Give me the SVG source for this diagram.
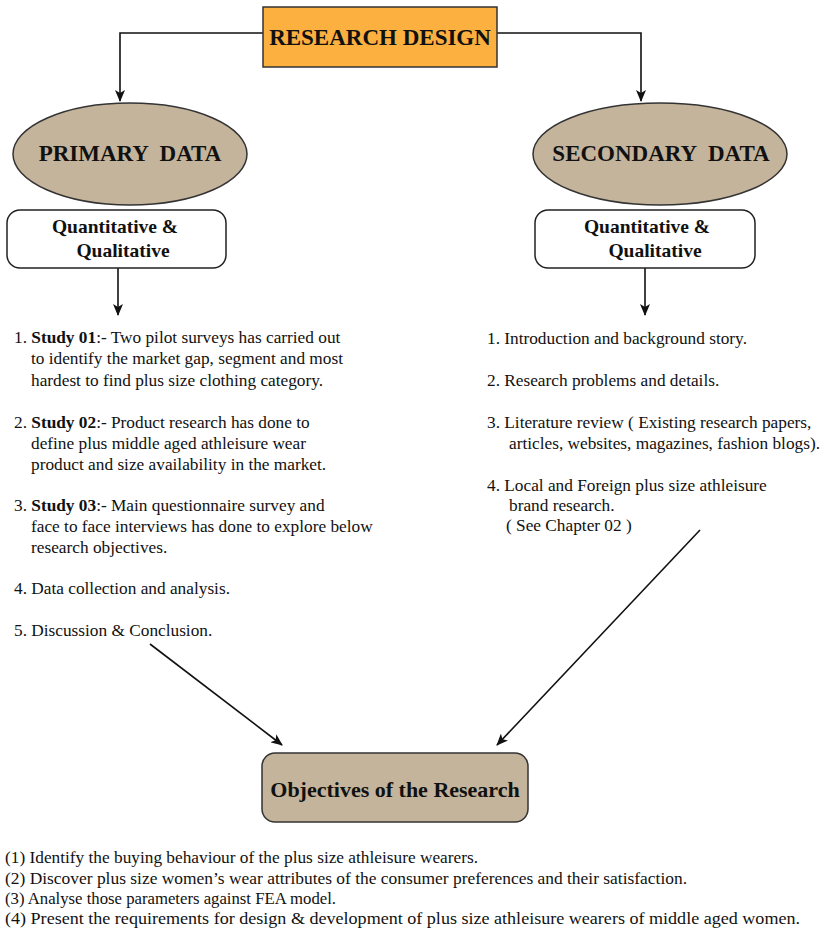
<svg xmlns="http://www.w3.org/2000/svg" width="822" height="929" viewBox="0 0 822 929">
<style>
.t{font-family:"Liberation Serif","Times New Roman",serif;fill:#111}
.b{font-weight:bold}
.body{font-size:17.3px}
.conn{fill:none;stroke:#111;stroke-width:1.6}
.tan{fill:#C4B49B;stroke:#333;stroke-width:1.5}
</style>
<defs>
<marker id="ah" viewBox="0 0 12 10" refX="11" refY="5" markerWidth="12" markerHeight="10" markerUnits="userSpaceOnUse" orient="auto">
<path d="M0,0 L12,5 L0,10 L3,5 z" fill="#111"/>
</marker>
</defs>
<rect width="822" height="929" fill="#fff"/>
<g id="connectors">
<path class="conn" d="M263,33 H120 V101" marker-end="url(#ah)"/>
<path class="conn" d="M497,33 H641 V101" marker-end="url(#ah)"/>
<path class="conn" d="M118,268 V315" marker-end="url(#ah)"/>
<path class="conn" d="M645,268 V315" marker-end="url(#ah)"/>
<path class="conn" d="M150,644 L282,745" marker-end="url(#ah)"/>
<path class="conn" d="M700,530 L497,745" marker-end="url(#ah)"/>
</g>
<g id="research-design">
<rect x="263" y="7" width="234" height="60" fill="#FBB040" stroke="#333" stroke-width="1.5"/>
<text class="t b" x="380" y="45" font-size="23" text-anchor="middle">RESEARCH DESIGN</text>
</g>
<g id="primary-data">
<ellipse class="tan" cx="130" cy="154" rx="117" ry="51"/>
<text class="t b" x="130" y="161" font-size="23" text-anchor="middle" xml:space="preserve">PRIMARY  DATA</text>
</g>
<g id="secondary-data">
<ellipse class="tan" cx="660" cy="154" rx="127" ry="51"/>
<text class="t b" x="661" y="161" font-size="23" text-anchor="middle" xml:space="preserve">SECONDARY  DATA</text>
</g>
<g id="primary-type">
<rect x="7" y="210" width="219" height="58" rx="13" fill="#fff" stroke="#222" stroke-width="1.5"/>
<text class="t b" x="115" y="233" font-size="19.5" text-anchor="middle">Quantitative &amp;</text>
<text class="t b" x="123" y="257" font-size="19.5" text-anchor="middle">Qualitative</text>
</g>
<g id="secondary-type">
<rect x="535" y="210" width="220" height="58" rx="13" fill="#fff" stroke="#222" stroke-width="1.5"/>
<text class="t b" x="647" y="233" font-size="19.5" text-anchor="middle">Quantitative &amp;</text>
<text class="t b" x="655" y="257" font-size="19.5" text-anchor="middle">Qualitative</text>
</g>
<g id="primary-list" class="t body">
<text x="14" y="343">1. <tspan class="b">Study 01</tspan>:- Two pilot surveys has carried out</text>
<text x="31" y="364">to identify the market gap, segment and most</text>
<text x="31" y="386">hardest to find plus size clothing category.</text>
<text x="14" y="428">2. <tspan class="b">Study 02</tspan>:- Product research has done to</text>
<text x="31" y="449">define plus middle aged athleisure wear</text>
<text x="31" y="470">product and size availability in the market.</text>
<text x="14" y="511">3. <tspan class="b">Study 03</tspan>:- Main questionnaire survey and</text>
<text x="31" y="532">face to face interviews has done to explore below</text>
<text x="31" y="553">research objectives.</text>
<text x="14" y="594">4. Data collection and analysis.</text>
<text x="14" y="636">5. Discussion &amp; Conclusion.</text>
</g>
<g id="secondary-list" class="t body">
<text x="487" y="344">1. Introduction and background story.</text>
<text x="487" y="386">2. Research problems and details.</text>
<text x="487" y="428">3. Literature review ( Existing research papers,</text>
<text x="509" y="449">articles, websites, magazines, fashion blogs).</text>
<text x="487" y="491">4. Local and Foreign plus size athleisure</text>
<text x="509" y="511">brand research.</text>
<text x="506" y="531">( See Chapter 02 )</text>
</g>
<g id="objectives">
<rect class="tan" x="262" y="753" width="266" height="69" rx="13"/>
<text class="t b" x="395" y="797" font-size="22" text-anchor="middle">Objectives of the Research</text>
</g>
<g id="objectives-list" class="t" font-size="17">
<text x="5" y="863" textLength="473" lengthAdjust="spacingAndGlyphs">(1) Identify the buying behaviour of the plus size athleisure wearers.</text>
<text x="5" y="884" textLength="682" lengthAdjust="spacingAndGlyphs">(2) Discover plus size women’s wear attributes of the consumer preferences and their satisfaction.</text>
<text x="5" y="904" textLength="331" lengthAdjust="spacingAndGlyphs">(3) Analyse those parameters against FEA model.</text>
<text x="5" y="924" textLength="795" lengthAdjust="spacingAndGlyphs">(4) Present the requirements for design &amp; development of plus size athleisure wearers of middle aged women.</text>
</g>
</svg>
